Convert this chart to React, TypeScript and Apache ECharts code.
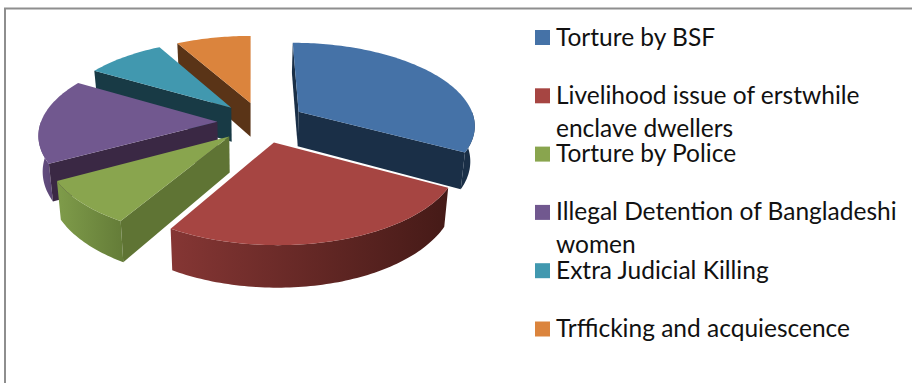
import React, { useEffect, useRef } from "react";
import * as echarts from "echarts";

// Share of reported cases per category, clockwise from twelve o'clock.
const categories = [
  "Torture by BSF",
  "Livelihood issue of erstwhile enclave dwellers",
  "Torture by Police",
  "Illegal Detention of Bangladeshi women",
  "Extra Judicial Killing",
  "Trfficking and acquiescence",
];
const values = [33, 25.5, 8.5, 16.5, 8.5, 8];

// Legend text as it wraps on the page.
const legendLines = [
  ["Torture by BSF"],
  ["Livelihood issue of erstwhile", "enclave dwellers"],
  ["Torture by Police"],
  ["Illegal Detention of Bangladeshi", "women"],
  ["Extra Judicial Killing"],
  ["Trfficking and acquiescence"],
];

const topColors = ["#4572a7", "#a64542", "#89a54e", "#71588f", "#4198af", "#db843d"];
const cutColors = ["#1a2f47", "#451a17", "#5f7434", "#3a2844", "#183a45", "#5a3417"];
const rimStart = ["#1a2f47", "#853634", "#7f9c4a", "#654f82", "#183a45", "#5a3417"];
const rimEnd = ["#1a2f47", "#451a17", "#647c38", "#5a4574", "#183a45", "#5a3417"];
// Painting order, far slices first.
const drawRank = [4, 5, 3, 2, 1, 0];

// Projection of the tilted pie onto the page.
const CX = 261.5;
const CY = 122;
const VX = 251;
const RX = 176.5;
const RY = 81.6;
const PERSPECTIVE = 0.143;
const EXPLODE = 0.25;
const DEPTH = 35;
const BOTTOM_SHRINK = 0.98;

const total = values.reduce((a, b) => a + b, 0);
const startAngles = values.map((_, i) =>
  (values.slice(0, i).reduce((a, b) => a + b, 0) / total) * 2 * Math.PI
);

function project(X: number, Y: number, bottom: boolean): number[] {
  const w = 1 / (1 - PERSPECTIVE * Y);
  let sx = (CX - VX + RX * X) * w;
  if (bottom) sx *= BOTTOM_SHRINK;
  const sy = CY + RY * Y * w + (bottom ? DEPTH * w : 0);
  return [VX + sx, sy];
}

function renderSlice(index: number) {
  return () => {
    const a0 = startAngles[index];
    const a1 = a0 + (values[index] / total) * 2 * Math.PI;
    const mid = (a0 + a1) / 2;
    const ox = EXPLODE * Math.sin(mid);
    const oy = -EXPLODE * Math.cos(mid);
    const rimPoint = (a: number, bottom: boolean) =>
      project(ox + Math.sin(a), oy - Math.cos(a), bottom);
    const apexTop = project(ox, oy, false);
    const apexBottom = project(ox, oy, true);

    const arc = (from: number, to: number, bottom: boolean) => {
      const n = Math.max(2, Math.ceil(Math.abs(to - from) / 0.02));
      const pts: number[][] = [];
      for (let i = 0; i <= n; i++) pts.push(rimPoint(from + ((to - from) * i) / n, bottom));
      return pts;
    };

    const children: any[] = [];
    const polygon = (points: number[][], fill: any) => ({
      type: "polygon",
      shape: { points },
      style: { fill, stroke: null },
    });

    // Outer wall: only the part that faces the viewer.
    const wallFrom = Math.max(a0, Math.PI / 2);
    const wallTo = Math.min(a1, (3 * Math.PI) / 2);
    if (wallTo > wallFrom) {
      children.push(
        polygon([...arc(wallFrom, wallTo, false), ...arc(wallTo, wallFrom, true)], {
          type: "linear",
          x: 0,
          y: 0,
          x2: 1,
          y2: 0,
          colorStops: [
            { offset: 0, color: rimStart[index] },
            { offset: 1, color: rimEnd[index] },
          ],
        })
      );
    }

    // Cut faces along the two straight edges.
    const facing = (a: number, sign: number) => {
      const normal = a + (sign * Math.PI) / 2;
      return -Math.cos(normal) > -0.02;
    };
    if (facing(a0, -1)) {
      children.push(
        polygon([apexTop, rimPoint(a0, false), rimPoint(a0, true), apexBottom], cutColors[index])
      );
    }
    if (facing(a1, 1)) {
      children.push(
        polygon([apexTop, rimPoint(a1, false), rimPoint(a1, true), apexBottom], cutColors[index])
      );
    }

    // Top face.
    children.push(polygon([apexTop, ...arc(a0, a1, false)], topColors[index]));
    return { type: "group", children };
  };
}

export default function App() {
  const ref = useRef<HTMLDivElement>(null);

  useEffect(() => {
    document.body.style.margin = "0";
    const chart = echarts.init(ref.current!, undefined, { renderer: "svg" });

    const LEGEND_TOP = 30;
    const LEGEND_STEP = 58.3;
    const legendItems: any[] = [];
    legendLines.forEach((lines, i) => {
      const y = LEGEND_TOP + i * LEGEND_STEP;
      legendItems.push({
        type: "rect",
        shape: { x: 535, y, width: 15, height: 15 },
        style: { fill: topColors[i] },
      });
      lines.forEach((line, j) => {
        legendItems.push({
          type: "text",
          style: {
            x: 556,
            y: y + 6 + j * 33,
            text: line,
            fill: "#111111",
            font: '24.5px Lato, "Open Sans", sans-serif',
            lineHeight: 24,
            textAlign: "left",
            textVerticalAlign: "middle",
          },
        });
      });
    });

    chart.setOption({
      animation: false,
      backgroundColor: "#ffffff",
      graphic: [
        {
          type: "rect",
          shape: { x: 5, y: 8.5, width: 1000, height: 600 },
          style: { fill: "none", stroke: "#8e8e8e", lineWidth: 2 },
        },
        ...legendItems,
      ],
      series: categories.map((name, i) => ({
        type: "custom",
        name,
        coordinateSystem: "none",
        z: 3 + drawRank[i],
        silent: true,
        data: [values[i]],
        renderItem: renderSlice(i),
      })),
    });

    return () => chart.dispose();
  }, []);

  return (
    <div
      ref={ref}
      style={{ position: "absolute", left: 0, top: 0, width: 912, height: 383 }}
    />
  );
}
